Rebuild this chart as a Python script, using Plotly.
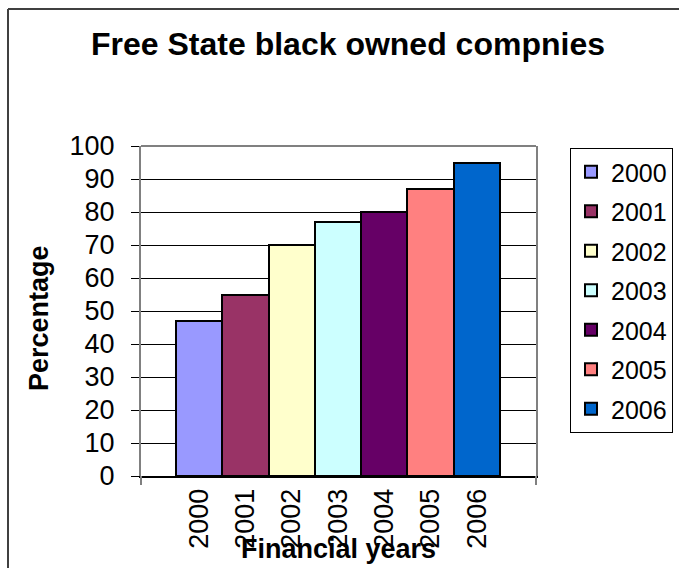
import plotly.graph_objects as go

years = ["2000", "2001", "2002", "2003", "2004", "2005", "2006"]
values = [47, 55, 70, 77, 80, 87, 95]
colors = ["#9999FF", "#993366", "#FFFFCC", "#CCFFFF", "#660066", "#FF8080", "#0066CC"]
y_ticks = list(range(0, 101, 10))

FONT = "Arial, Liberation Sans, sans-serif"

fig = go.Figure()
for yr, v, c in zip(years, values, colors):
    fig.add_trace(go.Bar(
        x=[yr], y=[v], name=yr, width=1, legendgroup=yr,
        marker=dict(color=c, line=dict(color="black", width=2)),
    ))

# plot area: x 141-536, y 146-476
L, R, T, B = 141, 536, 146, 476
W, H = 679, 568
pw, ph = R - L, B - T

def px(x):
    return (x - L) / pw

def py(y):
    return (B - y) / ph

fig.update_layout(
    width=W, height=H,
    margin=dict(l=L, r=W - R, t=T, b=H - B, pad=0, autoexpand=False),
    paper_bgcolor="white", plot_bgcolor="white",
    font=dict(family=FONT, color="black", size=27),
    barmode="group", bargap=0,
    title=dict(text="<b>Free State black owned compnies</b>", font=dict(size=32, family=FONT),
               x=348 / W, xanchor="center", y=1 - 44 / H, yanchor="middle"),
    showlegend=True,
    legend=dict(xref="container", yref="container", x=570 / W, y=1 - 148 / H,
                xanchor="left", yanchor="top", maxheight=450,
                bordercolor="black", borderwidth=1, bgcolor="white",
                font=dict(size=25, family=FONT), tracegroupgap=4,
                itemwidth=30, entrywidth=68),
    xaxis=dict(type="category", categoryorder="array", categoryarray=years,
               range=[-1.256, 7.277], tickangle=-90, ticks="", showgrid=False,
               showline=True, linecolor="black", linewidth=2,
               tickfont=dict(size=27, family=FONT), fixedrange=True),
    yaxis=dict(range=[0, 100], tickvals=y_ticks, ticks="outside", ticklen=8,
               tickcolor="black", showgrid=True, gridcolor="black", gridwidth=1,
               showline=True, linecolor="#808080", linewidth=2, mirror=True,
               zeroline=False, ticklabelstandoff=11,
               tickfont=dict(size=27, family=FONT), fixedrange=True),
    annotations=[
        dict(text="<b>Percentage</b>", x=px(39), y=py(318), xref="paper", yref="paper",
             textangle=-90, showarrow=False, font=dict(size=27, family=FONT),
             xanchor="center", yanchor="middle"),
        dict(text="<b>Financial years</b>", x=0.5, y=py(549), xref="paper", yref="paper",
             showarrow=False, font=dict(size=27, family=FONT),
             xanchor="center", yanchor="middle"),
    ],
    shapes=[
        dict(type="line", xref="paper", yref="paper", x0=0, x1=1, y0=1, y1=1,
             line=dict(color="#808080", width=2)),
        dict(type="line", xref="paper", yref="paper", x0=0, x1=0, y0=0, y1=py(485),
             line=dict(color="#808080", width=2)),
        dict(type="line", xref="paper", yref="paper", x0=1, x1=1, y0=0, y1=py(485),
             line=dict(color="#808080", width=2)),
        dict(type="line", xref="paper", yref="paper", x0=px(8), x1=px(679), y0=py(9), y1=py(9),
             line=dict(color="#404040", width=2)),
        dict(type="line", xref="paper", yref="paper", x0=px(8), x1=px(8), y0=py(9), y1=py(568),
             line=dict(color="#404040", width=2)),
    ],
)

fig.write_html("out.html")
